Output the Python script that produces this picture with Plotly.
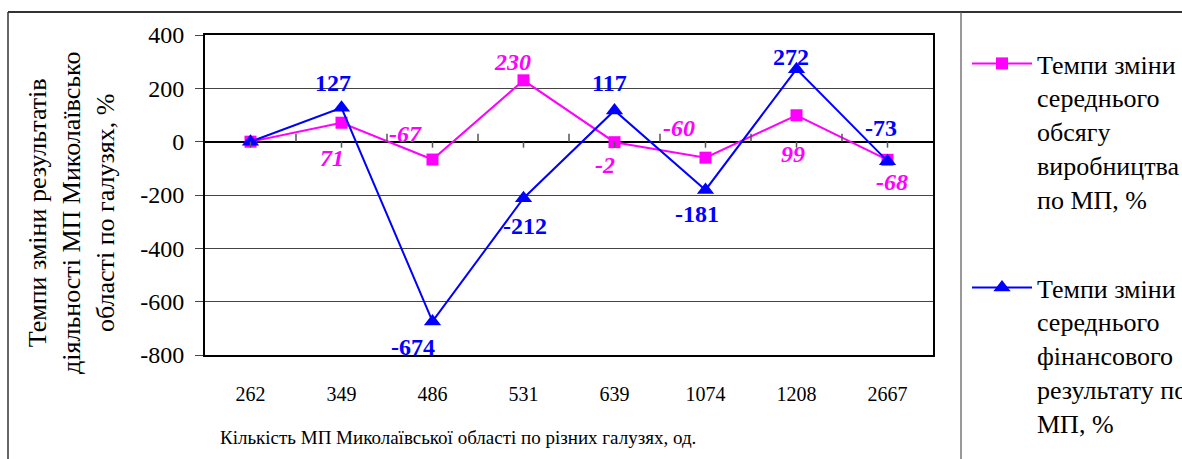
import plotly.graph_objects as go

categories = ["262", "349", "486", "531", "639", "1074", "1208", "2667"]
production = [0, 71, -67, 230, -2, -60, 99, -68]
financial = [0, 127, -674, -212, 117, -181, 272, -73]
prod_labels = ["", "71", "-67", "230", "-2", "-60", "99", "-68"]
fin_labels = ["", "127", "-674", "-212", "117", "-181", "272", "-73"]
y_ticks = [-800, -600, -400, -200, 0, 200, 400]
y_ticktext = ["-800", "-600", "-400", "-200", "0", "200", "400"]

prod_name = "Темпи зміни<br>середнього<br>обсягу<br>виробництва<br>по МП, %"
fin_name = "Темпи зміни<br>середнього<br>фінансового<br>результату по<br>МП, %"
y_title = "Темпи зміни результатів<br>діяльності МП Миколаївсько<br>області по галузях, %"
x_title = "Кількість МП Миколаївської області по різних галузях, од."

# label offsets in pixels (style only)
prod_dy = [0, -35, 26, 18, -23, 30, -39, -22]
prod_dx = [0, -10, -27, -11, -10, -27, -4, 4]
fin_dy = [0, 25, -26, -28, 27, -24, 12, 33]
fin_dx = [0, -9, -20, 1, -5, -9, -6, -7]

MAGENTA = "#FF00FF"
BLUE = "#0000FF"
SERIF = "Liberation Serif, Times New Roman, serif"

W, H = 1182, 459
L, R, T, B = 205, 933, 35, 355


def px(xp):
    return (xp - L) / (R - L)


def py(yp):
    return (B - yp) / (B - T)


fig = go.Figure()
fig.add_trace(go.Scatter(
    x=categories, y=production, name=prod_name, legendgroup="a",
    mode="lines+markers",
    line=dict(color=MAGENTA, width=2),
    marker=dict(symbol="square", size=12, color=MAGENTA),
))
fig.add_trace(go.Scatter(
    x=categories, y=financial, name=fin_name, legendgroup="b",
    mode="lines+markers",
    line=dict(color=BLUE, width=2),
    marker=dict(symbol="triangle-up", size=15, color=BLUE),
))

annotations = []
for i, c in enumerate(categories):
    if prod_labels[i]:
        annotations.append(dict(
            x=i, y=production[i], xref="x", yref="y", text=prod_labels[i],
            showarrow=False, xshift=prod_dx[i], yshift=prod_dy[i],
            font=dict(family=SERIF, size=24, color=MAGENTA, weight="bold", style="italic"),
        ))
    if fin_labels[i]:
        annotations.append(dict(
            x=i, y=financial[i], xref="x", yref="y", text=fin_labels[i],
            showarrow=False, xshift=fin_dx[i], yshift=fin_dy[i],
            font=dict(family=SERIF, size=24, color=BLUE, weight="bold"),
        ))

annotations.append(dict(
    x=px(71), y=py(213), xref="paper", yref="paper", text=y_title,
    textangle=-90, showarrow=False, xanchor="center", yanchor="middle",
    font=dict(family=SERIF, size=26, color="black"),
))
annotations.append(dict(
    x=px(458), y=py(437), xref="paper", yref="paper", text=x_title,
    showarrow=False, xanchor="center", yanchor="middle",
    font=dict(family=SERIF, size=19, color="black"),
))

shapes = []
# tick marks on the zero line
for i in range(len(categories) - 1):
    shapes.append(dict(type="line", xref="x", yref="y", x0=i + 0.5, x1=i + 0.5,
                       ysizemode="pixel", yanchor=0, y0=0, y1=8,
                       line=dict(color="#555555", width=1.5)))
for i in range(len(categories)):
    shapes.append(dict(type="line", xref="x", yref="y", x0=i, x1=i,
                       ysizemode="pixel", yanchor=0, y0=0, y1=-6,
                       line=dict(color="#555555", width=1.5)))
# page frame
shapes.append(dict(type="line", xref="paper", yref="paper",
                   x0=px(8), x1=px(1190), y0=py(12), y1=py(12),
                   line=dict(color="#333333", width=2)))
shapes.append(dict(type="line", xref="paper", yref="paper",
                   x0=px(8), x1=px(8), y0=py(12), y1=py(470),
                   line=dict(color="#333333", width=1.5)))
shapes.append(dict(type="line", xref="paper", yref="paper",
                   x0=px(961), x1=px(961), y0=py(12), y1=py(470),
                   line=dict(color="#555555", width=1.2)))

fig.update_layout(
    width=W, height=H,
    margin=dict(l=L, r=W - R, t=T, b=H - B, pad=0, autoexpand=False),
    paper_bgcolor="white", plot_bgcolor="white",
    font=dict(family=SERIF, color="black"),
    showlegend=True,
    legend=dict(
        x=px(967), y=py(40), xanchor="left", yanchor="top",
        bgcolor="rgba(0,0,0,0)", font=dict(family=SERIF, size=26, color="black"),
        valign="top", tracegroupgap=52, itemwidth=60, traceorder="grouped",
        maxheight=2000,
    ),
    xaxis=dict(
        type="category", categoryorder="array", categoryarray=categories,
        range=[-0.5, len(categories) - 0.5],
        showline=True, mirror=True, linecolor="black", linewidth=1.5,
        showgrid=False, zeroline=False, ticks="",
        ticklabelstandoff=20,
        tickfont=dict(family=SERIF, size=20, color="black"),
        fixedrange=True,
    ),
    yaxis=dict(
        range=[-800, 400], tickvals=y_ticks, ticktext=y_ticktext,
        showline=True, mirror=True, linecolor="black", linewidth=2,
        showgrid=True, gridcolor="#444444", gridwidth=1,
        zeroline=True, zerolinecolor="black", zerolinewidth=1.5,
        ticks="outside", ticklen=8, tickcolor="#444444",
        ticklabelstandoff=6,
        tickfont=dict(family=SERIF, size=24, color="black"),
        fixedrange=True,
    ),
    annotations=annotations,
    shapes=shapes,
)

fig.write_html("out.html", config={"displayModeBar": False},
               post_script="document.body.style.margin='0';")
